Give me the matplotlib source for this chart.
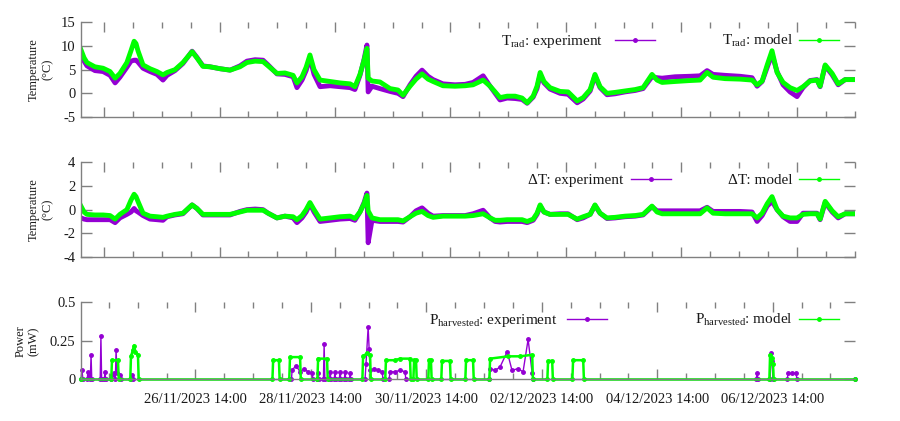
import matplotlib
matplotlib.use("Agg")
import matplotlib.pyplot as plt
from matplotlib.lines import Line2D
from datetime import datetime, timedelta

plt.rcParams['font.family'] = ['Liberation Serif', 'DejaVu Serif']
plt.rcParams['mathtext.fontset'] = 'custom'
plt.rcParams['mathtext.rm'] = 'Liberation Serif'

# ---------------- data (hours since 24/11/2023 14:00) ----------------
ORIGIN = datetime(2023, 11, 24, 14, 0)
XMIN, XMAX = 0.42, 322.2

t_temp = [0.4, 1.7, 2.9, 6.2, 9.6, 12.5, 14.6, 16.6, 19.5, 21.2,
          22.5, 23.3, 24.1, 26.2, 29.1, 32.0, 34.5, 36.2, 39.5, 42.8,
          46.6, 48.6, 51.1, 54.1, 58.2, 62.4, 66.5, 69.4, 72.8, 76.1,
          78.2, 81.9, 85.2, 88.6, 90.2, 92.3, 94.0, 95.6, 97.3, 99.8,
          104.0, 108.1, 112.3, 114.3, 116.4, 118.1, 119.3, 119.8, 121.4, 124.7,
          128.9, 132.2, 134.3, 137.2, 139.7, 142.2, 144.7, 146.8, 150.9, 155.9,
          160.1, 163.4, 167.6, 170.5, 172.6, 174.6, 177.6, 180.9, 183.8, 185.9,
          188.4, 190.0, 191.3, 192.9, 195.4, 199.6, 202.9, 206.7, 209.2, 212.1,
          214.1, 216.2, 219.1, 222.5, 226.6, 230.8, 234.1, 237.8, 239.9, 242.0,
          247.4, 253.6, 257.8, 260.7, 263.2, 268.2, 274.4, 279.4, 281.5, 283.6,
          285.7, 287.7, 289.8, 292.3, 295.2, 298.1, 300.6, 303.5, 306.4, 307.7,
          309.8, 312.7, 315.2, 318.1, 322.2]

trad_model = [9.2, 7.5, 6.5, 5.6, 5.3, 4.6, 3.2, 4.2, 6.5, 9.0,
              11.0, 10.5, 9.0, 6.0, 5.2, 4.6, 3.9, 4.4, 5.0, 6.5,
              8.8, 7.5, 5.7, 5.6, 5.2, 4.9, 5.6, 6.5, 6.8, 6.7,
              5.8, 4.2, 4.3, 3.8, 2.2, 3.5, 5.5, 8.1, 5.0, 2.8,
              2.5, 2.2, 2.0, 1.4, 4.0, 7.0, 9.5, 3.2, 2.6, 2.4,
              1.0, 0.7, -0.4, 1.5, 3.0, 4.1, 3.0, 2.5, 1.6, 1.5,
              1.6, 1.8, 2.8, 1.5, 0.3, -0.9, -0.6, -0.6, -1.0, -2.0,
              -0.6, 1.5, 4.4, 2.5, 1.2, 0.4, 0.3, -1.6, -0.9, 0.8,
              4.0, 1.4, 0.0, 0.2, 0.5, 0.8, 1.2, 4.0, 2.8, 2.3,
              2.5, 2.7, 2.8, 4.4, 3.4, 3.1, 3.0, 2.8, 1.8, 2.6,
              6.0, 9.0, 4.4, 2.3, 1.2, 0.6, 1.4, 2.6, 2.8, 1.5,
              6.0, 4.2, 2.0, 2.9, 2.9]

trad_exp = [8.0, 6.8, 5.8, 4.8, 4.6, 3.8, 2.2, 3.4, 5.5, 6.8,
            7.0, 7.0, 6.6, 5.3, 4.6, 4.0, 2.8, 3.8, 4.8, 6.3,
            8.9, 7.6, 5.8, 5.6, 5.2, 4.9, 5.8, 6.8, 7.1, 7.0,
            6.0, 4.1, 4.0, 3.5, 1.2, 2.8, 4.8, 7.5, 4.0, 1.4,
            1.6, 1.4, 1.2, 0.8, 3.8, 7.2, 10.2, 0.3, 1.5, 1.0,
            0.4, 0.0, -0.7, 1.8, 3.6, 4.9, 3.6, 2.9, 2.0, 1.8,
            1.9, 2.3, 3.7, 1.5, 0.0, -1.4, -1.0, -1.1, -1.3, -2.1,
            -0.8, 1.0, 3.9, 2.2, 0.9, 0.0, -0.2, -2.0, -1.2, 0.5,
            3.7, 1.2, -0.3, -0.1, 0.3, 0.6, 1.0, 3.5, 3.3, 3.2,
            3.5, 3.6, 3.7, 4.8, 4.0, 3.8, 3.6, 3.3, 1.5, 2.5,
            5.5, 8.2, 4.6, 1.8, 0.3, -0.7, 1.2, 2.7, 2.9, 1.4,
            5.8, 3.9, 1.8, 2.9, 2.9]

dt_model = [0.3, -0.2, -0.4, -0.45, -0.45, -0.5, -0.8, -0.4, 0.0, 0.8,
            1.3, 1.1, 0.7, -0.3, -0.55, -0.6, -0.65, -0.55, -0.4, -0.3,
            0.4, 0.1, -0.4, -0.4, -0.4, -0.4, -0.2, -0.05, -0.05, -0.05,
            -0.3, -0.7, -0.55, -0.6, -0.85, -0.5, 0.0, 0.6, 0.0, -0.8,
            -0.7, -0.6, -0.55, -0.75, -0.2, 0.5, 1.2, -0.1, -0.7, -0.85,
            -0.85, -0.85, -0.95, -0.6, -0.3, -0.15, -0.5, -0.65, -0.55, -0.55,
            -0.55, -0.5, -0.35, -0.7, -0.9, -0.9, -0.85, -0.85, -0.85, -1.0,
            -0.8, -0.3, 0.4, -0.2, -0.4, -0.4, -0.4, -0.8, -0.6, -0.4,
            0.4, -0.3, -0.7, -0.65, -0.55, -0.5, -0.4, 0.3, -0.2, -0.35,
            -0.35, -0.35, -0.35, 0.15, -0.3, -0.35, -0.35, -0.35, -0.7, -0.3,
            0.5, 1.1, 0.0, -0.55, -0.7, -0.7, -0.4, -0.35, -0.35, -0.8,
            0.7, -0.1, -0.6, -0.35, -0.35]

dt_exp = [-0.7, -0.8, -0.85, -0.85, -0.85, -0.85, -1.1, -0.7, -0.4, -0.2,
          0.1, -0.1, -0.2, -0.5, -0.8, -0.85, -0.9, -0.6, -0.45, -0.35,
          0.4, 0.1, -0.45, -0.45, -0.45, -0.45, -0.15, 0.0, 0.05, 0.0,
          -0.3, -0.7, -0.55, -0.7, -1.1, -0.7, -0.2, 0.5, -0.2, -1.0,
          -0.9, -0.8, -0.75, -0.9, -0.2, 0.6, 1.4, -2.8, -0.9, -1.0,
          -1.0, -1.0, -1.05, -0.6, -0.1, 0.15, -0.3, -0.55, -0.5, -0.5,
          -0.5, -0.35, -0.05, -0.7, -1.0, -1.05, -1.0, -1.0, -1.0, -1.1,
          -0.9, -0.4, 0.3, -0.2, -0.4, -0.35, -0.35, -0.85, -0.7, -0.4,
          0.35, -0.3, -0.75, -0.7, -0.6, -0.55, -0.45, 0.25, -0.1, -0.1,
          -0.1, -0.1, -0.1, 0.2, -0.15, -0.15, -0.15, -0.2, -1.0, -0.5,
          0.3, 0.7, 0.0, -0.6, -1.0, -1.0, -0.3, -0.3, -0.3, -0.85,
          0.6, -0.2, -0.7, -0.35, -0.35]

p_exp_t = [0.4, 0.8, 1.2, 3.0, 3.3, 3.6, 4.3, 4.6, 4.9, 8.4,
           8.7, 9.0, 10.1, 10.4, 10.7, 13.0, 13.3, 14.1, 14.7, 15.0,
           15.4, 16.6, 17.0, 21.3, 21.6, 21.9, 87.9, 88.2, 89.8, 91.5,
           93.1, 94.8, 96.5, 96.9, 98.7, 99.0, 99.4, 101.2, 101.5, 101.8,
           103.7, 104.0, 104.3, 105.7, 106.0, 106.3, 107.8, 108.1, 108.4, 109.9,
           110.2, 110.5, 112.0, 112.3, 112.6, 118.5, 118.9, 119.8, 120.2, 120.6,
           122.3, 124.0, 125.6, 126.0, 128.5, 128.9, 131.0, 133.1, 135.1, 135.5,
           170.1, 170.5, 172.6, 174.6, 177.6, 179.6, 182.1, 184.2, 186.3, 188.0,
           188.4, 281.1, 281.5, 281.9, 286.9, 287.3, 287.7, 288.1, 294.0, 294.4,
           296.1, 297.7, 298.1, 322.2]
p_exp_v = [0, 0.064, 0, 0, 0.05, 0.02, 0, 0.16, 0, 0,
           0.28, 0, 0, 0.05, 0, 0, 0.03, 0.04, 0, 0.19,
           0.04, 0.03, 0, 0, 0.03, 0, 0, 0.06, 0.09, 0.05,
           0.07, 0.05, 0.04, 0, 0, 0.04, 0, 0, 0.23, 0,
           0, 0.05, 0, 0, 0.05, 0, 0, 0.05, 0, 0,
           0.05, 0, 0, 0.04, 0, 0, 0.1, 0.34, 0.2, 0.06,
           0.07, 0.06, 0.05, 0, 0, 0.05, 0.05, 0.06, 0.05, 0,
           0, 0.07, 0.06, 0.08, 0.18, 0.06, 0.07, 0.05, 0.26, 0.04,
           0, 0, 0.04, 0, 0, 0.17, 0.12, 0, 0, 0.04,
           0.04, 0.04, 0, 0]

p_mod_t = [0.4, 13.0, 13.3, 15.8, 16.1, 20.9, 21.2, 22.0, 22.5, 23.0,
           24.1, 24.4, 80.0, 80.3, 82.7, 83.0, 87.0, 87.3, 91.5, 91.8,
           98.7, 99.0, 102.7, 103.0, 117.4, 117.7, 119.3, 120.6, 120.9, 126.9,
           127.2, 131.0, 133.0, 137.2, 137.5, 138.6, 138.9, 139.7, 140.0, 144.8,
           145.1, 145.9, 146.2, 150.2, 150.5, 153.8, 154.1, 160.2, 160.5, 163.4,
           163.7, 170.2, 170.5, 178.0, 183.0, 188.0, 188.3, 194.3, 194.6, 196.3,
           196.6, 204.7, 205.0, 209.2, 209.5, 286.6, 286.9, 287.5, 288.1, 288.4,
           322.2]
p_mod_v = [0, 0, 0.125, 0.125, 0, 0, 0.15, 0.19, 0.22, 0.18,
           0.16, 0, 0, 0.125, 0.125, 0, 0, 0.145, 0.145, 0,
           0, 0.135, 0.135, 0, 0, 0.15, 0.17, 0.16, 0, 0,
           0.125, 0.125, 0.135, 0.135, 0, 0, 0.125, 0.125, 0, 0,
           0.125, 0.125, 0, 0, 0.12, 0.12, 0, 0, 0.125, 0.125,
           0, 0, 0.135, 0.15, 0.15, 0.16, 0, 0, 0.12, 0.12,
           0, 0, 0.125, 0.125, 0, 0, 0.16, 0.14, 0.1, 0,
           0]

top_major = [10, 58, 106, 154, 202, 250, 298]
top_minor = list(range(22, 323, 12))
bot_major = [48, 96, 144, 192, 240, 288]
bot_minor = list(range(12, 323, 12))

PURPLE = '#9400d3'
GREEN = '#00ff00'
AXC = '#808080'
TXT = '#1a1a1a'

fig = plt.figure(figsize=(9, 4.21), dpi=100)
axT = fig.add_axes([0.09, 0.7221, 0.86, 0.2249])
axD = fig.add_axes([0.09, 0.3896, 0.86, 0.2249])
axP = fig.add_axes([0.09, 0.0986, 0.86, 0.1834])


def style(ax, ylim, yticks, ylabels, xmaj, xmin, label, labx, xlabels=None):
    ax.set_xlim(XMIN, XMAX)
    ax.set_ylim(*ylim)
    for s in ['top', 'right']:
        ax.spines[s].set_visible(False)
    for s in ['left', 'bottom']:
        ax.spines[s].set_color(AXC)
        ax.spines[s].set_linewidth(1.0)
    ax.set_yticks(yticks)
    ax.set_yticklabels(ylabels)
    ax.set_xticks(xmaj)
    ax.set_xticks(xmin, minor=True)
    if xlabels is None:
        ax.set_xticklabels([])
    else:
        ax.set_xticklabels(xlabels)
    ax.tick_params(axis='both', which='both', direction='in', top=True, right=True,
                   color=AXC, labelsize=10.5, labelcolor=TXT, width=1.0)
    ax.tick_params(axis='y', which='major', length=8, pad=4)
    ax.tick_params(axis='x', which='major', length=7, pad=10)
    ax.tick_params(axis='x', which='minor', length=4)
    ax.set_ylabel(label, fontsize=9, color=TXT, linespacing=1.2)
    ax.yaxis.set_label_coords(labx, 0.5)


# Temperature panel
axT.plot(t_temp, trad_exp, color=PURPLE, lw=3.5, solid_joinstyle='round')
axT.plot(t_temp, trad_model, color=GREEN, lw=3.5, solid_joinstyle='round')
style(axT, (-5, 15), [-5, 0, 5, 10, 15], ['-5', '0', '5', '10', '15'],
      top_major, top_minor, 'Temperature\n(°C)', -0.035)

# Delta T panel
axD.plot(t_temp, dt_exp, color=PURPLE, lw=3.5, solid_joinstyle='round')
axD.plot(t_temp, dt_model, color=GREEN, lw=3.5, solid_joinstyle='round')
style(axD, (-4, 4), [-4, -2, 0, 2, 4], ['-4', '-2', '0', '2', '4'],
      top_major, top_minor, 'Temperature\n(°C)', -0.035)

# Power panel
axP.plot(p_exp_t, p_exp_v, color=PURPLE, lw=1.0, marker='o', ms=2.5, clip_on=False)
axP.plot(p_mod_t, p_mod_v, color=GREEN, lw=1.8, marker='o', ms=2.5, clip_on=False)
labels = [(ORIGIN + timedelta(hours=h)).strftime('%d/%m/%Y %H:%M') for h in bot_major]
style(axP, (0, 0.5), [0, 0.25, 0.5], ['0', '0.25', '0.5'],
      bot_major, bot_minor, 'Power\n(mW)', -0.053, xlabels=labels)


# legends (gnuplot style: right aligned text + sample line with point)
def legend_entry(text, x_text, x0, x1, y_line, y_base, color):
    fig.text(x_text / 900, 1 - y_base / 421, text, ha='right', va='baseline',
             fontsize=11, color=TXT)
    fig.add_artist(Line2D([x0 / 900, x1 / 900], [1 - y_line / 421] * 2,
                          transform=fig.transFigure, color=color, lw=1.0))
    fig.add_artist(Line2D([(x0 + x1) / 1800], [1 - y_line / 421],
                          transform=fig.transFigure, color=color, marker='o', ms=2.5))


legend_entry(r'$\mathregular{T_{rad}}$: experiment', 603, 615, 655, 40, 45, PURPLE)
legend_entry(r'$\mathregular{T_{rad}}$: model', 793, 799, 839, 40, 45, GREEN)
legend_entry('ΔT: experiment', 623, 631, 671, 179.3, 184.3, PURPLE)
legend_entry('ΔT: model', 793, 799, 839, 179.3, 184.3, GREEN)
legend_entry(r'$\mathregular{P_{harvested}}$: experiment', 557, 567, 607, 319.3, 324.3, PURPLE)
legend_entry(r'$\mathregular{P_{harvested}}$: model', 793, 799, 839, 319.3, 324.3, GREEN)

fig.savefig('out.png', dpi=100)
